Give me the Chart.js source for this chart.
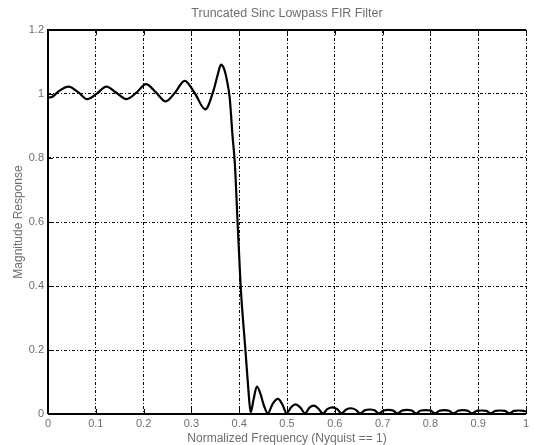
<!DOCTYPE html>
<html>
<head>
<meta charset="utf-8">
<script src="https://cdn.jsdelivr.net/npm/chart.js@4"></script>
<style>
  html, body { margin: 0; padding: 0; background: #fff; }
  #wrap { width: 534px; height: 445px; }
</style>
</head>
<body>
<div id="wrap"><canvas id="chart" width="534" height="445"></canvas></div>
<script>
const freq = [
  0.000, 0.010, 0.022, 0.043, 0.063, 0.082, 0.102, 0.122, 0.143, 0.164,
  0.185, 0.205, 0.226, 0.246, 0.266, 0.286, 0.308, 0.329, 0.346, 0.355,
  0.362, 0.368, 0.374, 0.380, 0.386, 0.391, 0.396, 0.403, 0.413, 0.419,
  0.424, 0.430, 0.437, 0.444, 0.452, 0.460, 0.470, 0.481, 0.491, 0.499,
  0.509, 0.518, 0.528, 0.538, 0.547, 0.556, 0.565, 0.575, 0.585, 0.595,
  0.605, 0.614, 0.624, 0.634, 0.644, 0.653, 0.663, 0.673, 0.683, 0.692,
  0.702, 0.712, 0.722, 0.731, 0.741, 0.751, 0.761, 0.770, 0.780, 0.790,
  0.800, 0.809, 0.819, 0.829, 0.839, 0.848, 0.858, 0.868, 0.878, 0.887,
  0.897, 0.907, 0.917, 0.926, 0.936, 0.946, 0.956, 0.965, 0.975, 0.985,
  0.995, 1.000
];
const magnitude = [
  0.988, 0.992, 1.008, 1.023, 1.006, 0.984, 1.001, 1.023, 1.004, 0.984,
  1.004, 1.031, 1.005, 0.977, 1.005, 1.041, 1.000, 0.952, 1.010, 1.060,
  1.092, 1.080, 1.045, 0.990, 0.870, 0.780, 0.620, 0.400, 0.200, 0.080,
  0.005, 0.045, 0.086, 0.065, 0.025, 0.002, 0.032, 0.047, 0.028, 0.002,
  0.022, 0.030, 0.020, 0.002, 0.020, 0.026, 0.018, 0.002, 0.016, 0.021,
  0.015, 0.002, 0.014, 0.018, 0.013, 0.002, 0.012, 0.014, 0.012, 0.002,
  0.011, 0.013, 0.011, 0.002, 0.011, 0.013, 0.011, 0.002, 0.011, 0.012,
  0.011, 0.002, 0.010, 0.012, 0.010, 0.002, 0.010, 0.012, 0.010, 0.002,
  0.010, 0.011, 0.010, 0.002, 0.010, 0.011, 0.010, 0.002, 0.010, 0.011,
  0.010, 0.008
];
const xTicks = [0, 0.1, 0.2, 0.3, 0.4, 0.5, 0.6, 0.7, 0.8, 0.9, 1];
const xTickLabels = ["0", "0.1", "0.2", "0.3", "0.4", "0.5", "0.6", "0.7", "0.8", "0.9", "1"];
const yTicks = [0, 0.2, 0.4, 0.6, 0.8, 1, 1.2];
const yTickLabels = ["0", "0.2", "0.4", "0.6", "0.8", "1", "1.2"];

const textColor = "#6e6e6e";
const fontFamily = "'Liberation Sans', Arial, sans-serif";

function labelFor(ticks, labels, v) {
  const i = ticks.findIndex((t) => Math.abs(t - v) < 1e-6);
  return i >= 0 ? labels[i] : "";
}

// box around the axes plus short inward tick marks, matlab style
const axesBox = {
  id: "axesBox",
  afterDraw(chart) {
    const { ctx, chartArea: a, scales } = chart;
    ctx.save();
    ctx.strokeStyle = "#000";
    ctx.lineWidth = 1;
    ctx.beginPath();
    xTicks.forEach((t) => {
      const px = Math.round(scales.x.getPixelForValue(t)) + 0.5;
      ctx.moveTo(px, a.top); ctx.lineTo(px, a.top + 5);
      ctx.moveTo(px, a.bottom); ctx.lineTo(px, a.bottom - 5);
    });
    yTicks.forEach((t) => {
      const py = Math.round(scales.y.getPixelForValue(t)) + 0.5;
      ctx.moveTo(a.left, py); ctx.lineTo(a.left + 5, py);
    });
    ctx.stroke();
    ctx.lineWidth = 2;
    ctx.beginPath();
    ctx.moveTo(a.left, a.bottom);
    ctx.lineTo(a.left, a.top);
    ctx.lineTo(a.right, a.top);
    ctx.moveTo(a.left, a.bottom);
    ctx.lineTo(a.right, a.bottom);
    ctx.stroke();
    ctx.restore();
  },
};

const ctx = document.getElementById("chart").getContext("2d");
new Chart(ctx, {
  type: "line",
  data: {
    datasets: [{
      data: freq.map((f, i) => ({ x: f, y: magnitude[i] })),
      borderColor: "#000",
      borderWidth: 2.2,
      pointRadius: 0,
      cubicInterpolationMode: "monotone",
      fill: false,
    }],
  },
  options: {
    responsive: false,
    animation: false,
    layout: { padding: { left: 0, right: 8, top: 0, bottom: 0 } },
    plugins: {
      legend: { display: false },
      tooltip: { enabled: false },
      title: {
        display: true,
        text: "Truncated Sinc Lowpass FIR Filter",
        color: textColor,
        fullSize: false,
        font: { family: fontFamily, size: 12.5, weight: "normal", lineHeight: 1.2 },
        padding: { top: 6.5, bottom: 8.5 },
      },
    },
    scales: {
      x: {
        type: "linear",
        min: 0,
        max: 1,
        afterBuildTicks: (scale) => { scale.ticks = xTicks.map((v) => ({ value: v })); },
        afterFit: (scale) => { scale.height = 31; },
        grid: {
          color: "#000",
          lineWidth: 1,
          drawTicks: false,
        },
        border: { display: false, dash: [3, 2, 1, 2] },
        ticks: {
          color: textColor,
          padding: 3,
          maxRotation: 0,
          autoSkip: false,
          font: { family: fontFamily, size: 11 },
          callback: (v) => labelFor(xTicks, xTickLabels, v),
        },
        title: {
          display: true,
          text: "Normalized Frequency (Nyquist == 1)",
          color: textColor,
          font: { family: fontFamily, size: 12, lineHeight: 1 },
          padding: 0,
        },
      },
      y: {
        type: "linear",
        min: 0,
        max: 1.2,
        afterBuildTicks: (scale) => { scale.ticks = yTicks.map((v) => ({ value: v })); },
        afterFit: (scale) => { scale.width = 48; },
        grid: {
          color: "#000",
          lineWidth: 1,
          drawTicks: false,
        },
        border: { display: false, dash: [3, 2, 1, 2] },
        ticks: {
          color: textColor,
          padding: 4,
          font: { family: fontFamily, size: 11 },
          callback: (v) => labelFor(yTicks, yTickLabels, v),
        },
        title: {
          display: true,
          text: "Magnitude Response",
          color: textColor,
          font: { family: fontFamily, size: 12, lineHeight: 1.2 },
          padding: { top: 11, bottom: 0 },
        },
      },
    },
  },
  plugins: [axesBox],
});
</script>
</body>
</html>
